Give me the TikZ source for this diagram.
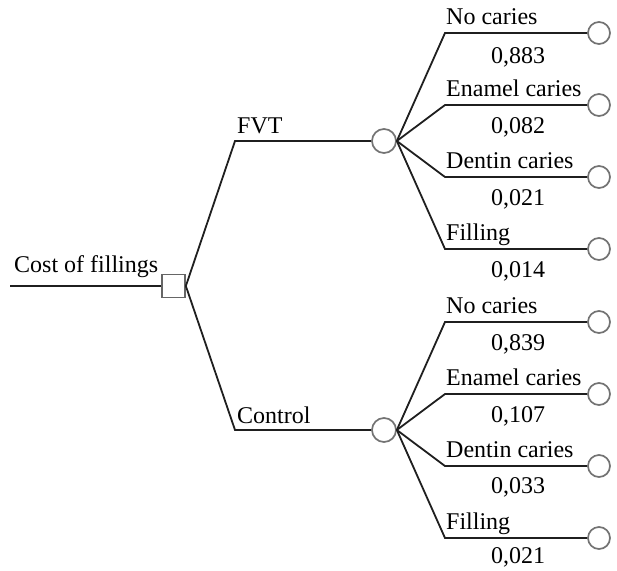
\documentclass[tikz,border=0pt]{standalone}
\usepackage{fontspec}
\setmainfont{Liberation Serif}
\begin{document}
\begin{tikzpicture}[x=1pt,y=-1pt,
  conn/.style={draw=black!88, line width=1.8pt},
  chance/.style={circle, draw=black!55, line width=1.7pt, minimum size=24pt, inner sep=0pt, fill=white},
  endnode/.style={circle, draw=black!55, line width=1.7pt, minimum size=22pt, inner sep=0pt, fill=white},
  decision/.style={rectangle, draw=black!60, line width=1.7pt, minimum size=23pt, inner sep=0pt, fill=white},
  lbl/.style={anchor=base west, inner sep=0pt, font=\fontsize{24}{28}\selectfont},
  prob/.style={anchor=base, inner sep=0pt, font=\fontsize{24}{28}\selectfont}]
\useasboundingbox (0,0) rectangle (617,570);
\coordinate (start) at (10,286);
\node[decision] (sq) at (173.5,286) {};
\draw[conn] (start) -- (sq.west);
\node[lbl] (costlbl) at (14,272) {Cost of fillings};
\coordinate (fb) at (235,141);
\coordinate (cb) at (235,430);
\node[chance] (fc) at (384,141) {};
\node[chance] (cc) at (384,430) {};
\draw[conn] (sq.east) -- (fb) -- (fc.west);
\draw[conn] (sq.east) -- (cb) -- (cc.west);
\node[lbl] (fvtlbl) at (237,133) {FVT};
\node[lbl] (ctrllbl) at (237,423) {Control};
\foreach \y/\t/\p/\n/\src/\dy in {33/No caries/0{,}883/f1/fc/30, 105/Enamel caries/0{,}082/f2/fc/28, 177/Dentin caries/0{,}021/f3/fc/28, 249/Filling/0{,}014/f4/fc/28,
  322/No caries/0{,}839/c1/cc/28, 394/Enamel caries/0{,}107/c2/cc/28, 466/Dentin caries/0{,}033/c3/cc/27, 538/Filling/0{,}021/c4/cc/25}{
  \coordinate (b\n) at (445,\y);
  \node[endnode] (e\n) at (599,\y) {};
  \draw[conn] (\src.east) -- (b\n) -- (e\n.west);
  \node[lbl] (l\n) at (446,\y-9) {\t};
  \node[prob] (p\n) at (518,\y+\dy) {\p};
}
\end{tikzpicture}
\end{document}
